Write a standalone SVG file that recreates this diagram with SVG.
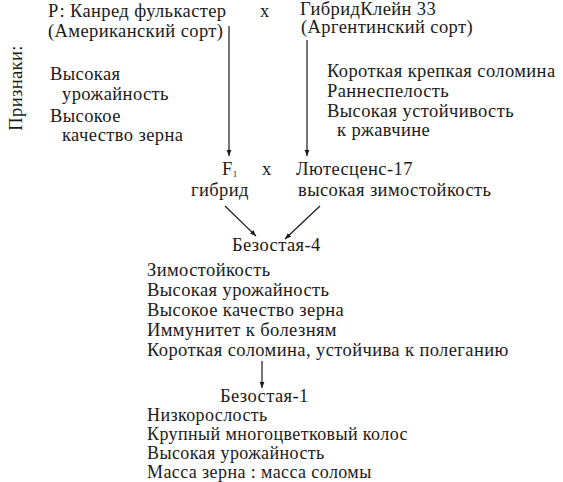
<svg xmlns="http://www.w3.org/2000/svg" width="563" height="482" viewBox="0 0 563 482">
<style>
text{font-family:"Liberation Serif","DejaVu Serif",serif;font-size:18.5px;letter-spacing:0.4px;fill:#1a1a1a}
.s{font-size:18px}
.c{stroke:#1a1a1a;stroke-width:1.2;fill:none}
</style>
<defs>
<marker id="ah" viewBox="0 0 10 10" refX="10" refY="5" markerWidth="6" markerHeight="6" orient="auto" markerUnits="userSpaceOnUse"><path d="M0,1 L10,5 L0,9 z" fill="#1a1a1a"/></marker>
</defs>
<rect width="563" height="482" fill="#fff"/>
<g id="label"><text transform="translate(22,88) rotate(-90)" text-anchor="middle">Признаки:</text></g>
<g id="p1">
<text x="48" y="17">Р: Канред  фулькастер</text>
<text x="48" y="37">(Американский сорт)</text>
<text x="50" y="80">Высокая</text>
<text x="62" y="100">урожайность</text>
<text x="50" y="122">Высокое</text>
<text x="62" y="141">качество зерна</text>
</g>
<g id="x1"><text x="260" y="17">х</text></g>
<g id="p2">
<text x="300" y="15">ГибридКлейн 33</text>
<text x="301" y="33">(Аргентинский сорт)</text>
<text x="327" y="77">Короткая крепкая соломина</text>
<text x="327" y="97">Раннеспелость</text>
<text x="327" y="117">Высокая устойчивость</text>
<text x="337" y="136">к ржавчине</text>
</g>
<g id="f1"><text x="222" y="175">F<tspan font-size="9" dy="2">1</tspan></text><text x="191" y="196">гибрид</text></g>
<g id="x2"><text x="262" y="175">х</text></g>
<g id="l17"><text x="296" y="175">Лютесценс-17</text><text x="298" y="196">высокая зимостойкость</text></g>
<g id="b4">
<text x="232" y="251">Безостая-4</text>
<text x="147" y="276">Зимостойкость</text>
<text x="147" y="296">Высокая урожайность</text>
<text x="147" y="316">Высокое качество зерна</text>
<text x="147" y="336">Иммунитет к болезням</text>
<text x="147" y="356">Короткая соломина, устойчива к полеганию</text>
</g>
<g id="b1">
<text x="220" y="402">Безостая-1</text>
<text class="s" x="147" y="421">Низкорослость</text>
<text class="s" x="147" y="440">Крупный многоцветковый колос</text>
<text class="s" x="147" y="459">Высокая урожайность</text>
<text class="s" x="147" y="478">Масса зерна : масса соломы</text>
</g>
<g id="connectors">
<line class="c" x1="229" y1="26" x2="229" y2="156" marker-end="url(#ah)"/>
<line class="c" x1="307" y1="40" x2="307" y2="156" marker-end="url(#ah)"/>
<line class="c" x1="225" y1="206" x2="256" y2="236" marker-end="url(#ah)"/>
<line class="c" x1="320" y1="206" x2="285" y2="239" marker-end="url(#ah)"/>
<line class="c" x1="262" y1="361" x2="262" y2="388" marker-end="url(#ah)"/>
</g>
</svg>
